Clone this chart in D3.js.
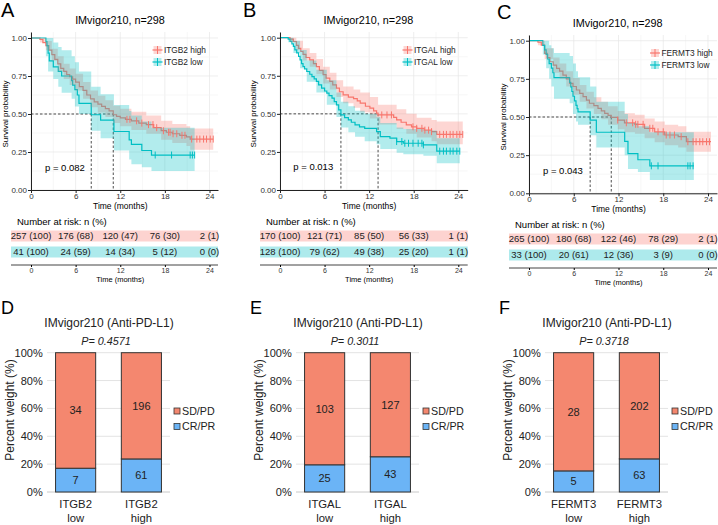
<!DOCTYPE html>
<html>
<head>
<meta charset="UTF-8">
<title>IMvigor210 ITGB2 / ITGAL / FERMT3</title>
<script src="https://cdnjs.cloudflare.com/ajax/libs/d3/7.8.5/d3.min.js"></script>
<style>
    body { margin: 0; background: #fff; }
    svg { display: block; font-family: "Liberation Sans", Arial, sans-serif; }
</style>
</head>
<body>
<svg width="718" height="525"></svg>
<script>
    // ---- data ----
    var riskTimes = [0, 6, 12, 18, 24];

    // KM steps: [time (months), survival]
    var aHigh = [[0,1],[1.2,0.99],[1.6,0.97],[2.0,0.95],[2.4,0.92],[2.8,0.89],[3.2,0.86],[3.6,0.83],[4.0,0.80],[4.4,0.78],[4.8,0.76],[5.2,0.745],[5.6,0.73],[6.0,0.71],[6.5,0.68],[7.0,0.655],[7.5,0.625],[8.0,0.60],[8.5,0.58],[9.0,0.565],[9.5,0.55],[10.0,0.535],[10.5,0.52],[11.06,0.495],[11.5,0.485],[12.0,0.475],[12.7,0.465],[13.5,0.455],[14.5,0.44],[15.5,0.43],[16.5,0.41],[17.5,0.39],[18.2,0.38],[19.0,0.37],[20.0,0.36],[20.9,0.35],[21.4,0.335],[24.5,0.335]];
    var aLow = [[0,1],[2.0,0.976],[2.15,0.95],[2.3,0.90],[2.46,0.85],[3.0,0.81],[3.67,0.78],[4.12,0.75],[5.46,0.72],[5.6,0.69],[5.9,0.66],[6.23,0.625],[6.45,0.57],[8.1,0.495],[9.36,0.46],[11.15,0.385],[13.2,0.33],[13.5,0.30],[14.9,0.26],[16.2,0.23],[22.0,0.23]];
    var bHigh = [[0,1],[1.35,0.99],[1.8,0.975],[2.2,0.95],[2.5,0.93],[2.8,0.91],[3.1,0.89],[3.5,0.87],[4.0,0.855],[4.5,0.83],[4.9,0.81],[5.3,0.785],[5.8,0.757],[6.2,0.735],[6.7,0.713],[7.1,0.69],[7.6,0.669],[8.0,0.645],[8.5,0.625],[9.2,0.61],[9.9,0.60],[10.4,0.585],[10.8,0.57],[11.5,0.55],[12.1,0.537],[12.6,0.52],[13.0,0.505],[13.2,0.493],[15.3,0.477],[15.7,0.46],[16.3,0.445],[17.0,0.428],[17.7,0.415],[18.4,0.405],[19.4,0.393],[20.4,0.383],[21.1,0.365],[24.6,0.365]];
    var bLow = [[0,1],[1.1,0.99],[1.35,0.976],[1.6,0.96],[1.8,0.943],[2.0,0.92],[2.25,0.90],[2.5,0.877],[2.7,0.855],[2.9,0.83],[3.1,0.811],[3.3,0.795],[3.6,0.778],[4.0,0.76],[4.3,0.745],[4.6,0.73],[4.9,0.713],[5.2,0.69],[5.6,0.669],[6.0,0.65],[6.3,0.636],[6.6,0.62],[7.0,0.603],[7.3,0.58],[7.6,0.559],[7.9,0.526],[8.2,0.493],[8.7,0.475],[9.2,0.46],[9.6,0.445],[10.1,0.428],[10.7,0.415],[11.4,0.405],[13.0,0.383],[13.5,0.35],[14.8,0.34],[15.7,0.318],[16.6,0.307],[19.3,0.296],[21.1,0.255],[24.2,0.255]];
    var cHigh = [[0,1],[1.2,0.99],[1.65,0.971],[2.1,0.917],[2.45,0.89],[2.8,0.862],[3.25,0.84],[3.7,0.819],[4.1,0.80],[4.55,0.775],[5.0,0.75],[5.45,0.72],[5.9,0.70],[6.35,0.677],[6.8,0.655],[7.25,0.633],[7.7,0.61],[8.1,0.59],[8.7,0.575],[9.25,0.557],[9.7,0.54],[10.15,0.524],[10.6,0.51],[11.03,0.497],[11.9,0.48],[12.8,0.462],[14.2,0.452],[15.5,0.426],[16.85,0.403],[18.2,0.382],[20.0,0.371],[21.1,0.338],[24.4,0.338]];
    var cLow = [[0,1],[1.85,0.97],[2.1,0.94],[2.3,0.91],[2.5,0.88],[2.7,0.85],[3.0,0.82],[3.2,0.79],[3.35,0.758],[5.45,0.727],[5.6,0.697],[5.75,0.667],[5.9,0.636],[6.1,0.606],[6.3,0.576],[6.45,0.555],[6.57,0.534],[8.2,0.48],[9.03,0.40],[12.83,0.34],[13.27,0.26],[14.6,0.22],[16.2,0.18],[22.1,0.18]];

    // confidence bands: [time, lower, upper]
    var aHighCI = [[0,1,1],[1.2,0.97,1],[2.0,0.92,0.98],[2.8,0.85,0.93],[3.6,0.78,0.88],[4.4,0.73,0.83],[5.2,0.69,0.80],[6.0,0.655,0.765],[7.0,0.60,0.71],[8.0,0.545,0.655],[9.0,0.51,0.62],[10.0,0.48,0.59],[11.06,0.44,0.555],[12.0,0.42,0.535],[13.5,0.395,0.515],[15.5,0.37,0.49],[17.5,0.33,0.455],[19.0,0.31,0.435],[20.9,0.29,0.42],[21.4,0.265,0.405],[24.5,0.265,0.405]];
    var aLowCI = [[0,1,1],[2.0,0.88,1],[2.3,0.78,1],[3.0,0.73,0.97],[3.67,0.68,0.94],[4.12,0.64,0.92],[5.46,0.60,0.88],[5.9,0.55,0.84],[6.45,0.50,0.78],[8.1,0.39,0.68],[9.36,0.34,0.63],[11.15,0.26,0.56],[13.2,0.20,0.52],[13.5,0.17,0.49],[14.9,0.15,0.45],[16.2,0.125,0.41],[22.0,0.125,0.41]];
    var bHighCI = [[0,1,1],[1.35,0.97,1],[2.2,0.92,0.98],[3.1,0.85,0.93],[4.0,0.81,0.90],[4.9,0.76,0.86],[5.8,0.70,0.81],[6.7,0.66,0.77],[7.6,0.61,0.72],[8.5,0.57,0.68],[9.9,0.54,0.66],[10.8,0.51,0.64],[12.1,0.47,0.61],[13.2,0.43,0.56],[15.7,0.40,0.53],[17.0,0.37,0.50],[18.4,0.345,0.475],[20.4,0.32,0.46],[21.1,0.30,0.45],[24.6,0.30,0.45]];
    var bLowCI = [[0,1,1],[1.1,0.97,1],[1.8,0.90,0.98],[2.7,0.80,0.92],[3.6,0.71,0.85],[4.9,0.64,0.79],[6.3,0.56,0.72],[7.6,0.48,0.64],[8.2,0.41,0.58],[9.2,0.38,0.55],[10.1,0.35,0.52],[11.4,0.32,0.50],[13.0,0.30,0.48],[13.5,0.27,0.44],[15.7,0.245,0.41],[16.6,0.235,0.40],[19.3,0.225,0.39],[21.1,0.175,0.34],[24.2,0.175,0.34]];
    var cHighCI = [[0,1,1],[1.2,0.97,1],[2.1,0.88,0.95],[3.25,0.79,0.89],[4.1,0.75,0.85],[5.0,0.70,0.80],[5.9,0.645,0.755],[6.8,0.60,0.71],[7.7,0.555,0.665],[8.7,0.52,0.63],[9.7,0.485,0.60],[10.6,0.45,0.57],[11.9,0.42,0.54],[12.8,0.40,0.525],[14.2,0.39,0.515],[15.5,0.36,0.49],[16.85,0.335,0.47],[18.2,0.315,0.45],[20.0,0.30,0.44],[21.1,0.272,0.403],[24.4,0.272,0.403]];
    var cLowCI = [[0,1,1],[1.85,0.91,1],[2.3,0.82,1],[2.7,0.75,0.97],[3.0,0.70,0.95],[3.35,0.62,0.92],[5.45,0.59,0.90],[5.9,0.52,0.85],[6.3,0.47,0.80],[6.57,0.45,0.76],[8.2,0.38,0.70],[9.03,0.30,0.60],[12.83,0.25,0.52],[13.27,0.16,0.46],[14.6,0.14,0.44],[16.2,0.087,0.40],[22.1,0.087,0.40]];

    // censor times
    var aHighCens = [12.9,13.3,14.2,14.9,15.8,16.4,16.9,17.8,18.5,18.7,19.1,19.6,20.3,20.7,21.6,22.3,22.7,23.2,23.6,24.1,24.5];
    var aLowCens = [16.7,18.9,21.4,21.7,22.0];
    var bHighCens = [13.7,14.4,15.0,17.9,18.4,19.1,19.5,20.0,20.4,21.5,22.0,22.4,22.9,23.3,23.8,24.2,24.6];
    var bLowCens = [15.7,16.4,16.8,17.3,17.9,18.6,19.1,19.3,21.5,22.0,22.4,22.9,23.3,23.8,24.2];
    var cHighCens = [11.9,13.05,13.9,14.3,14.6,15.3,16.2,16.6,17.3,18.0,18.4,18.9,19.5,20.4,21.3,22.0,22.4,22.9,23.3,23.8,24.2];
    var cLowCens = [16.4,17.3,21.3,21.6,22.0];

    // number at risk n and (%)
    var aRiskHigh = [257,176,120,76,2], aRiskHighPct = [100,68,47,30,1];
    var aRiskLow = [41,24,14,5,0], aRiskLowPct = [100,59,34,12,0];
    var bRiskHigh = [170,121,85,56,1], bRiskHighPct = [100,71,50,33,1];
    var bRiskLow = [128,79,49,25,1], bRiskLowPct = [100,62,38,20,1];
    var cRiskHigh = [265,180,122,78,2], cRiskHighPct = [100,68,46,29,1];
    var cRiskLow = [33,20,12,3,0], cRiskLowPct = [100,61,36,9,0];

    var kmPvalues = ["0.082", "0.013", "0.043"];

    // response bars: counts CR/PR and SD/PD, groups low/high
    var barGroups = ["low", "high"];
    var dCRPR = [7, 61], dSDPD = [34, 196];
    var eCRPR = [25, 43], eSDPD = [103, 127];
    var fCRPR = [5, 63], fSDPD = [28, 202];
    var barPvalues = ["0.4571", "0.3011", "0.3718"];
    var pctTicks = [0, 20, 40, 60, 80, 100];

    // ---- drawing ----
    var svg = d3.select("svg");
    var red = "#F8766D", teal = "#00BFC4";
    var sdColor = "#F4876F", crColor = "#6BB4F6";

    function stepAt(curve, t) {
        var s = curve[0][1];
        curve.forEach(function (d) { if (d[0] <= t) s = d[1]; });
        return s;
    }
    function median(curve) {
        var m = null;
        curve.forEach(function (d) { if (m === null && d[1] <= 0.5) m = d[0]; });
        return m;
    }

    function drawKM(p) {
        var g = svg.append("g");
        var x = d3.scaleLinear().domain([0, 24]).range([p.x0, p.x24]);
        var y = d3.scaleLinear().domain([0, 1]).range([p.y0, p.y1]);
        var xEnd = x.invert(p.right), yEnd = y.invert(p.top);
        var xa = x.copy().domain([0, xEnd]).range([p.x0, p.right]);
        var ya = y.copy().domain([0, yEnd]).range([p.y0, p.top]);

        g.append("text").attr("x", p.lx).attr("y", p.ly).attr("font-size", 20).text(p.letter);
        g.append("text").attr("x", p.tx).attr("y", p.ty).attr("font-size", 10.8)
            .attr("text-anchor", "middle").text("IMvigor210, n=298");

        // grid
        var minorX = d3.range(3, 25, 6), majorX = d3.range(0, 25, 6);
        var minorY = [0.125, 0.375, 0.625, 0.875], majorY = [0, 0.25, 0.5, 0.75, 1];
        g.selectAll(".gx").data(minorX.concat(majorX)).enter().append("line")
            .attr("x1", function (d) { return x(d); }).attr("x2", function (d) { return x(d); })
            .attr("y1", p.top).attr("y2", p.y0)
            .attr("stroke", function (d, i) { return i < minorX.length ? "#F3F3F3" : "#E6E6E6"; })
            .attr("stroke-width", 0.7);
        g.selectAll(".gy").data(minorY.concat(majorY)).enter().append("line")
            .attr("x1", p.x0).attr("x2", p.right)
            .attr("y1", function (d) { return y(d); }).attr("y2", function (d) { return y(d); })
            .attr("stroke", function (d, i) { return i < minorY.length ? "#F3F3F3" : "#E6E6E6"; })
            .attr("stroke-width", 0.7);

        var line = d3.line().curve(d3.curveStepAfter)
            .x(function (d) { return x(d[0]); }).y(function (d) { return y(d[1]); });
        var area = d3.area().curve(d3.curveStepAfter)
            .x(function (d) { return x(d[0]); })
            .y0(function (d) { return y(d[1]); }).y1(function (d) { return y(d[2]); });

        // dashed median lines
        var mH = median(p.high), mL = median(p.low);
        var dash = g.append("g").attr("stroke", "#000").attr("stroke-width", 0.7)
            .attr("stroke-dasharray", "2.5,2");
        dash.append("line").attr("x1", x(0)).attr("x2", x(Math.max(mH, mL)))
            .attr("y1", y(0.5)).attr("y2", y(0.5));
        [mH, mL].forEach(function (m) {
            dash.append("line").attr("x1", x(m)).attr("x2", x(m)).attr("y1", y(0.5)).attr("y2", y(0));
        });

        // survival lines, then ribbons over them, then censor marks
        g.append("path").datum(p.high).attr("d", line).attr("fill", "none").attr("stroke", red).attr("stroke-width", 1.2);
        g.append("path").datum(p.low).attr("d", line).attr("fill", "none").attr("stroke", teal).attr("stroke-width", 1.2);
        g.append("path").datum(p.highCI).attr("d", area).attr("fill", red).attr("fill-opacity", 0.3);
        g.append("path").datum(p.lowCI).attr("d", area).attr("fill", teal).attr("fill-opacity", 0.3);
        [[p.highCens, p.high, red], [p.lowCens, p.low, teal]].forEach(function (c) {
            g.selectAll(null).data(c[0]).enter().append("line")
                .attr("x1", function (d) { return x(d); }).attr("x2", function (d) { return x(d); })
                .attr("y1", function (d) { return y(stepAt(c[1], d)) - 3.5; })
                .attr("y2", function (d) { return y(stepAt(c[1], d)) + 3.5; })
                .attr("stroke", c[2]).attr("stroke-width", 1);
        });

        // axes
        var yAx = g.append("g").attr("transform", "translate(" + p.x0 + ",0)")
            .call(d3.axisLeft(ya).tickValues(majorY).tickFormat(d3.format(".2f")).tickSize(3).tickSizeOuter(0));
        var xAx = g.append("g").attr("transform", "translate(0," + p.y0 + ")")
            .call(d3.axisBottom(xa).tickValues(majorX).tickSize(3).tickSizeOuter(0));
        [yAx, xAx].forEach(function (a) {
            a.select(".domain").attr("stroke", "#222").attr("stroke-width", 1);
            a.selectAll(".tick line").attr("stroke", "#222");
            a.selectAll("text").attr("font-size", 8).attr("fill", "#333")
                .attr("font-family", "Liberation Sans, Arial, sans-serif");
        });
        yAx.selectAll("text").attr("x", -4);
        xAx.selectAll("text").attr("y", 3.5);
        g.append("text").attr("x", (p.x0 + p.x24) / 2).attr("y", p.y0 + 19).attr("font-size", 8.5)
            .attr("text-anchor", "middle").text("Time (months)");
        g.append("text").attr("transform", "translate(" + p.ylx + "," + y(0.5) + ") rotate(-90)")
            .attr("dy", "0.35em").attr("font-size", 8).attr("text-anchor", "middle").text("Survival probability");

        // legend
        [[p.gene + " high", red, 0], [p.gene + " low", teal, 1]].forEach(function (l) {
            var cy = p.legY + l[2] * 12;
            g.append("rect").attr("x", p.legX - 4).attr("y", cy - 4).attr("width", 8).attr("height", 8)
                .attr("fill", l[1]).attr("fill-opacity", 0.3);
            g.append("line").attr("x1", p.legX - 5).attr("x2", p.legX + 5).attr("y1", cy).attr("y2", cy)
                .attr("stroke", l[1]).attr("stroke-width", 1.2);
            g.append("line").attr("x1", p.legX).attr("x2", p.legX).attr("y1", cy - 4).attr("y2", cy + 4)
                .attr("stroke", l[1]).attr("stroke-width", 1);
            g.append("text").attr("x", p.legX + 6.5).attr("y", cy).attr("dy", "0.35em")
                .attr("font-size", 8.3).attr("fill", "#222").text(l[0]);
        });

        g.append("text").attr("x", p.pvx).attr("y", y(0.15)).attr("dy", "0.35em").attr("font-size", 9.5)
            .text("p = " + p.pval);

        // risk table
        var tb = p.tableTop;
        g.append("text").attr("x", p.x0 - 14).attr("y", tb).attr("dy", "0.35em").attr("font-size", 9.5)
            .text("Number at risk: n (%)");
        [[p.riskHigh, p.riskHighPct, red, 14], [p.riskLow, p.riskLowPct, teal, 30]].forEach(function (r) {
            var cy = tb + r[3];
            g.append("rect").attr("x", p.x0 - 20).attr("y", cy - 5.5).attr("width", p.right - p.x0 + 20).attr("height", 11)
                .attr("fill", r[2]).attr("fill-opacity", 0.32);
            g.selectAll(null).data(riskTimes).enter().append("text")
                .attr("x", function (d) { return x(d); }).attr("y", cy).attr("dy", "0.36em")
                .attr("font-size", 9.5).attr("fill", "#222").attr("text-anchor", "middle")
                .text(function (d, i) { return r[0][i] + " (" + r[1][i] + ")"; });
        });
        var tAx = g.append("g").attr("transform", "translate(0," + (tb + 43) + ")")
            .call(d3.axisBottom(xa).tickValues(majorX).tickSize(2).tickSizeOuter(0));
        tAx.select(".domain").attr("stroke", "#444").attr("d", "M" + (p.x0 - 20) + ",0H" + p.right);
        tAx.selectAll("text").attr("font-size", 7).attr("fill", "#333").attr("y", 3);
        g.append("text").attr("x", (p.x0 + p.x24) / 2).attr("y", tb + 60).attr("font-size", 7.5)
            .attr("text-anchor", "middle").text("Time (months)");
    }

    function drawBar(p) {
        var g = svg.append("g").attr("transform", "translate(" + p.ox + ",0)");
        var x = d3.scaleBand().domain(barGroups).range([47, 170]).paddingInner(0.39).paddingOuter(0.13);
        var y = d3.scaleLinear().domain([0, 100]).range([492, 352.7]);
        var rows = barGroups.map(function (gname, i) {
            var tot = p.cr[i] + p.sd[i];
            return {g: gname, cr: 100 * p.cr[i] / tot, sd: 100 * p.sd[i] / tot, ncr: p.cr[i], nsd: p.sd[i]};
        });
        var stack = d3.stack().keys(["cr", "sd"])(rows);

        g.append("text").attr("x", 1).attr("y", 314).attr("font-size", 18).text(p.letter);
        g.append("text").attr("x", 109).attr("y", 327).attr("font-size", 12).attr("text-anchor", "middle")
            .attr("fill", "#222").text("IMvigor210 (Anti-PD-L1)");
        g.append("text").attr("x", 106).attr("y", 345).attr("font-size", 10.8).attr("font-style", "italic")
            .attr("text-anchor", "middle").attr("fill", "#222").text("P= " + p.pval);

        g.selectAll(".grid").data(pctTicks.slice(1)).enter().append("line")
            .attr("x1", 47).attr("x2", 170).attr("y1", function (d) { return y(d); }).attr("y2", function (d) { return y(d); })
            .attr("stroke", "#E3E3E3").attr("stroke-width", 1);
        g.append("line").attr("x1", 47).attr("x2", 170).attr("y1", y(0)).attr("y2", y(0))
            .attr("stroke", "#C8C8C8").attr("stroke-width", 1);

        var yAx = g.append("g").attr("transform", "translate(47,0)")
            .call(d3.axisLeft(y).tickValues(pctTicks).tickFormat(function (d) { return d + "%"; }).tickSize(0));
        yAx.select(".domain").remove();
        yAx.selectAll("text").attr("font-size", 11).attr("fill", "#222").attr("x", -4.3)
            .attr("font-family", "Liberation Sans, Arial, sans-serif");

        g.append("text").attr("transform", "translate(10,410) rotate(-90)").attr("dy", "0.35em")
            .attr("font-size", 12).attr("text-anchor", "middle").attr("fill", "#222").text("Percent weight (%)");

        var cols = {cr: crColor, sd: sdColor};
        stack.forEach(function (layer) {
            g.selectAll(null).data(layer).enter().append("rect")
                .attr("x", function (d) { return x(d.data.g); }).attr("width", x.bandwidth())
                .attr("y", function (d) { return y(d[1]); }).attr("height", function (d) { return y(d[0]) - y(d[1]); })
                .attr("fill", cols[layer.key]).attr("stroke", "#333").attr("stroke-width", 1);
            g.selectAll(null).data(layer).enter().append("text")
                .attr("x", function (d) { return x(d.data.g) + x.bandwidth() / 2; })
                .attr("y", function (d) { return y((d[0] + d[1]) / 2); }).attr("dy", "0.35em")
                .attr("font-size", 11).attr("text-anchor", "middle").attr("fill", "#222")
                .text(function (d) { return layer.key === "cr" ? d.data.ncr : d.data.nsd; });
        });

        barGroups.forEach(function (gname) {
            var cx = x(gname) + x.bandwidth() / 2;
            g.append("text").attr("x", cx).attr("y", 508).attr("font-size", 11.3).attr("text-anchor", "middle")
                .attr("fill", "#222").text(p.gene);
            g.append("text").attr("x", cx).attr("y", 521.5).attr("font-size", 11.3).attr("text-anchor", "middle")
                .attr("fill", "#222").text(gname);
        });

        [["SD/PD", sdColor, 411], ["CR/PR", crColor, 426.5]].forEach(function (l) {
            g.append("rect").attr("x", 174).attr("y", l[2] - 3).attr("width", 6).attr("height", 6)
                .attr("fill", l[1]).attr("stroke", "#333").attr("stroke-width", 0.8);
            g.append("text").attr("x", 182).attr("y", l[2]).attr("dy", "0.35em").attr("font-size", 10.7)
                .attr("fill", "#222").text(l[0]);
        });
    }

    drawKM({letter: "A", gene: "ITGB2", x0: 31, x24: 209.5, right: 218, y0: 190, y1: 38, top: 32,
        lx: 1, ly: 17, tx: 120, ty: 23.5, legX: 157.5, legY: 50, pvx: 45, ylx: 5, tableTop: 222,
        high: aHigh, low: aLow, highCI: aHighCI, lowCI: aLowCI, highCens: aHighCens, lowCens: aLowCens,
        riskHigh: aRiskHigh, riskHighPct: aRiskHighPct, riskLow: aRiskLow, riskLowPct: aRiskLowPct, pval: kmPvalues[0]});
    drawKM({letter: "B", gene: "ITGAL", x0: 280, x24: 458.3, right: 467.7, y0: 190, y1: 37.7, top: 32,
        lx: 243, ly: 17, tx: 368.3, ty: 23.5, legX: 407.5, legY: 50, pvx: 293.3, ylx: 253, tableTop: 222,
        high: bHigh, low: bLow, highCI: bHighCI, lowCI: bLowCI, highCens: bHighCens, lowCens: bLowCens,
        riskHigh: bRiskHigh, riskHighPct: bRiskHighPct, riskLow: bRiskLow, riskLowPct: bRiskLowPct, pval: kmPvalues[1]});
    drawKM({letter: "C", gene: "FERMT3", x0: 529, x24: 708, right: 717, y0: 193.3, y1: 40.7, top: 35,
        lx: 497, ly: 19, tx: 617.7, ty: 27, legX: 655, legY: 53, pvx: 543, ylx: 503, tableTop: 225,
        high: cHigh, low: cLow, highCI: cHighCI, lowCI: cLowCI, highCens: cHighCens, lowCens: cLowCens,
        riskHigh: cRiskHigh, riskHighPct: cRiskHighPct, riskLow: cRiskLow, riskLowPct: cRiskLowPct, pval: kmPvalues[2]});

    drawBar({letter: "D", gene: "ITGB2", ox: 0, cr: dCRPR, sd: dSDPD, pval: barPvalues[0]});
    drawBar({letter: "E", gene: "ITGAL", ox: 249, cr: eCRPR, sd: eSDPD, pval: barPvalues[1]});
    drawBar({letter: "F", gene: "FERMT3", ox: 498, cr: fCRPR, sd: fSDPD, pval: barPvalues[2]});
</script>
</body>
</html>
